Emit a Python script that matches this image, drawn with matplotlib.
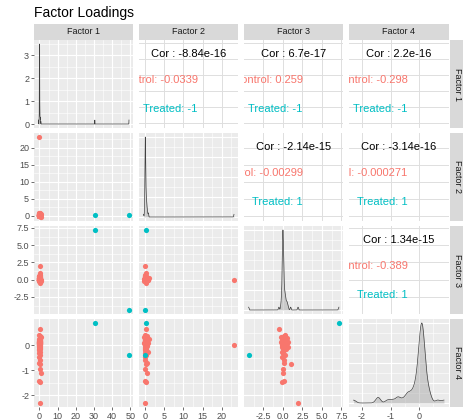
import numpy as np
import matplotlib.pyplot as plt

plt.rcParams['font.family'] = ['Liberation Sans', 'DejaVu Sans']

variables = ['Factor 1', 'Factor 2', 'Factor 3', 'Factor 4']
group_names = ['Control', 'Treated']
group_colours = ['#F8766D', '#00BFC4']

# loadings (control group)
ctrl_f1 = [0.55, 0.10, -0.20, 0.60, 0.05, 0.30, 0.00, 0.15, -0.05, 0.20,
           0.02, 0.08, -0.10, 0.12, 0.00, 0.04, 0.25, -0.03, 0.06, 0.01,
           0.00, 0.03, 0.10, -0.02, 0.05, 0.07, 0.00, 0.14, 0.02, 0.45,
           0.09, -0.06, 0.01, 0.11, 0.03, 0.00, 0.18, 0.04, 0.06, 0.02,
           -0.04, 0.08, 0.00, 0.13, 0.05, 0.35, 0.01, 0.03, 0.07, 0.10,
           0.02, 0.00, 0.16, 0.04, 0.80, 0.06, -0.08, 0.40, -0.50, 0.05]
ctrl_f2 = [0.10, 0.30, 0.05, 0.60, 0.00, 0.20, 0.40, 0.10, -0.10, 0.15,
           0.05, 0.80, 0.02, 0.25, 0.10, -0.05, 0.35, 0.00, 0.12, 0.50,
           0.03, 0.15, 0.07, 0.00, 0.45, 0.08, 0.20, -0.15, 0.06, 0.30,
           0.10, 0.02, 0.65, 0.04, 0.18, 0.00, 0.09, 0.28, 0.01, 0.12,
           0.38, 0.05, 0.14, -0.02, 0.22, 0.07, 0.55, 0.03, 0.11, 0.00,
           0.16, 0.90, 0.04, 0.27, -0.40, 0.42, 0.02, 0.13, 23.2, 0.06]
ctrl_f3 = [1.95, -0.05, 0.20, 0.00, 0.05, 1.00, 0.10, 0.15, -0.05, 0.30,
           0.05, -0.10, 0.20, 0.00, 0.40, 0.10, -0.05, 0.60, 0.05, 0.00,
           0.15, -0.10, 0.02, 0.30, 0.00, 0.08, -0.15, 0.04, 0.50, 0.00,
           0.10, -0.05, 0.02, 0.25, 0.00, -0.02, 0.70, 0.05, 0.01, -0.20,
           0.03, 0.12, -0.03, 0.00, 0.35, 0.06, -0.08, 0.02, 0.45, 0.04,
           -0.12, 0.20, 0.01, 0.55, -0.25, 0.10, 0.30, -0.50, 0.00, -0.02]
ctrl_f4 = [-2.30, -1.45, -1.42, -1.10, -0.93, -0.76, -0.72, -0.58, -0.46, -0.38,
           -0.31, -0.26, -0.21, -0.17, -0.14, -0.11, -0.08, -0.06, -0.04, -0.02,
           0.00, 0.01, 0.02, 0.03, 0.04, 0.05, 0.06, 0.07, 0.07, 0.08,
           0.08, 0.09, 0.09, 0.10, 0.10, 0.11, 0.11, 0.12, 0.12, 0.13,
           0.13, 0.14, 0.14, 0.15, 0.15, 0.16, 0.17, 0.18, 0.19, 0.20,
           0.22, 0.24, 0.26, 0.29, 0.32, 0.36, 0.40, 0.66, 0.00, 0.05]

# treated group (two samples)
trt_f1 = [30.5, 49.3]
trt_f2 = [0.15, 0.05]
trt_f3 = [7.2, -4.4]
trt_f4 = [0.88, -0.40]

breaks = [[0, 10, 20, 30, 40, 50],
          [0, 5, 10, 15, 20],
          [-2.5, 0, 2.5, 5, 7.5],
          [-2, -1, 0]]
break_labels = [['0', '10', '20', '30', '40', '50'],
                ['0', '5', '10', '15', '20'],
                ['-2.5', '0.0', '2.5', '5.0', '7.5'],
                ['-2', '-1', '0']]
density_breaks = [0, 1, 2, 3]

cor_text = {
    (0, 1): ['Cor : -8.84e-16', 'Control: -0.0339', 'Treated: -1'],
    (0, 2): ['Cor : 6.7e-17', 'Control: 0.259', 'Treated: -1'],
    (0, 3): ['Cor : 2.2e-16', 'Control: -0.298', 'Treated: -1'],
    (1, 2): ['Cor : -2.14e-15', 'Control: -0.00299', 'Treated: 1'],
    (1, 3): ['Cor : -3.14e-16', 'Control: -0.000271', 'Treated: 1'],
    (2, 3): ['Cor : 1.34e-15', 'Control: -0.389', 'Treated: 1'],
}

ctrl = [np.array(v) for v in (ctrl_f1, ctrl_f2, ctrl_f3, ctrl_f4)]
trt = [np.array(v) for v in (trt_f1, trt_f2, trt_f3, trt_f4)]
allv = [np.concatenate([c, t]) for c, t in zip(ctrl, trt)]


def expand(lo, hi, mult=0.05):
    r = hi - lo
    return lo - mult * r, hi + mult * r


def minor_breaks(b, lims):
    step = b[1] - b[0]
    m = np.arange(b[0] - step / 2, b[-1] + step, step)
    return [v for v in m if lims[0] <= v <= lims[1]]


def kde(v):
    # gaussian density with R's bw.nrd0, over the data range like stat_density
    n = len(v)
    sd = np.std(v, ddof=1)
    iqr = np.subtract(*np.percentile(v, [75, 25]))
    lo = min(sd, iqr / 1.34) if iqr > 0 else sd
    bw = 0.9 * lo * n ** -0.2
    xs = np.linspace(v.min(), v.max(), 512)
    d = np.exp(-0.5 * ((xs[:, None] - v[None, :]) / bw) ** 2).sum(axis=1)
    d /= n * bw * np.sqrt(2 * np.pi)
    return xs, d


limits = [expand(v.min(), v.max()) for v in allv]

W, H = 464, 420
fig = plt.figure(figsize=(W / 100, H / 100), dpi=100)

left0, col_w, col_gap = 34, 99.5, 5.5
top0, row_h, row_gap = 40, 88, 5
strip_bg = '#D9D9D9'
tick_col = '#4D4D4D'


def rect(x, y_top, w, h):
    return [x / W, 1 - (y_top + h) / H, w / W, h / H]


for i in range(4):
    for j in range(4):
        x0 = left0 + j * (col_w + col_gap)
        y0 = top0 + i * (row_h + row_gap)
        ax = fig.add_axes(rect(x0, y0, col_w, row_h))
        for s in ax.spines.values():
            s.set_visible(False)
        ax.set_xlim(limits[j])
        ax.tick_params(length=2, width=0.5, color='#333333', labelsize=6.5,
                       labelcolor=tick_col, pad=1.5)

        if i < j:
            ax.set_facecolor('white')
            ax.set_ylim(limits[i])
            for b in breaks[j]:
                ax.axvline(b, color='#DEDEDE', lw=0.7, zorder=0)
            for b in breaks[i]:
                ax.axhline(b, color='#DEDEDE', lw=0.7, zorder=0)
            lines = cor_text[(i, j)]
            ax.text(0.5, 0.84, lines[0], transform=ax.transAxes, ha='center',
                    va='center', fontsize=8, color='black', clip_on=True)
            ax.text(0.59, 0.54, lines[1], transform=ax.transAxes, ha='right',
                    va='center', fontsize=8, color=group_colours[0], clip_on=True)
            ax.text(0.59, 0.22, lines[2], transform=ax.transAxes, ha='right',
                    va='center', fontsize=8, color=group_colours[1], clip_on=True)
            ax.set_xticks([])
            ax.set_yticks([])
        else:
            ax.set_facecolor('#EBEBEB')
            xb = breaks[j]
            for b in minor_breaks(xb, limits[j]):
                ax.axvline(b, color='white', lw=0.4, zorder=0)
            for b in xb:
                ax.axvline(b, color='white', lw=0.8, zorder=0)
            if i == j:
                xs, d = kde(allv[j])
                ylim = expand(0, d.max())
                ax.set_ylim(ylim)
                yb = [b for b in density_breaks if b <= ylim[1]] if j == 0 else \
                    list(np.linspace(0, d.max(), 5))
                for b in minor_breaks(yb, ylim):
                    ax.axhline(b, color='white', lw=0.4, zorder=0)
                for b in yb:
                    ax.axhline(b, color='white', lw=0.8, zorder=0)
                ax.fill_between(xs, d, color='#999999', alpha=0.4, lw=0, zorder=2)
                ax.plot(xs, d, color='#404040', lw=0.5, zorder=3)
                if j == 0:
                    ax.set_yticks(yb)
                    ax.set_yticklabels([str(b) for b in yb])
                else:
                    ax.set_yticks([])
            else:
                ax.set_ylim(limits[i])
                yb = breaks[i]
                for b in minor_breaks(yb, limits[i]):
                    ax.axhline(b, color='white', lw=0.4, zorder=0)
                for b in yb:
                    ax.axhline(b, color='white', lw=0.8, zorder=0)
                ax.scatter(ctrl[j], ctrl[i], s=14, color=group_colours[0],
                           lw=0, zorder=3)
                ax.scatter(trt[j], trt[i], s=14, color=group_colours[1],
                           lw=0, zorder=3)
                if j == 0:
                    ax.set_yticks(breaks[i])
                    ax.set_yticklabels(break_labels[i])
                else:
                    ax.set_yticks([])
            if i == 3:
                ax.set_xticks(breaks[j])
                ax.set_xticklabels(break_labels[j])
            else:
                ax.set_xticks([])

        # strips
        if i == 0:
            sax = fig.add_axes(rect(x0, top0 - 16, col_w, 16))
            sax.set_facecolor(strip_bg)
            sax.set_xticks([])
            sax.set_yticks([])
            for s in sax.spines.values():
                s.set_visible(False)
            sax.text(0.5, 0.5, variables[j], ha='center', va='center',
                     fontsize=6.5, color='#1A1A1A', transform=sax.transAxes)
        if j == 3:
            sax = fig.add_axes(rect(450, y0, 16, row_h))
            sax.set_facecolor(strip_bg)
            sax.set_xticks([])
            sax.set_yticks([])
            for s in sax.spines.values():
                s.set_visible(False)
            sax.text(0.45, 0.5, variables[i], ha='center', va='center',
                     rotation=270, fontsize=6.5, color='#1A1A1A',
                     transform=sax.transAxes)

fig.text(34 / W, 1 - 6 / H, 'Factor Loadings', ha='left', va='top',
         fontsize=10, color='black')

fig.savefig('out.png', dpi=100, facecolor='white')
